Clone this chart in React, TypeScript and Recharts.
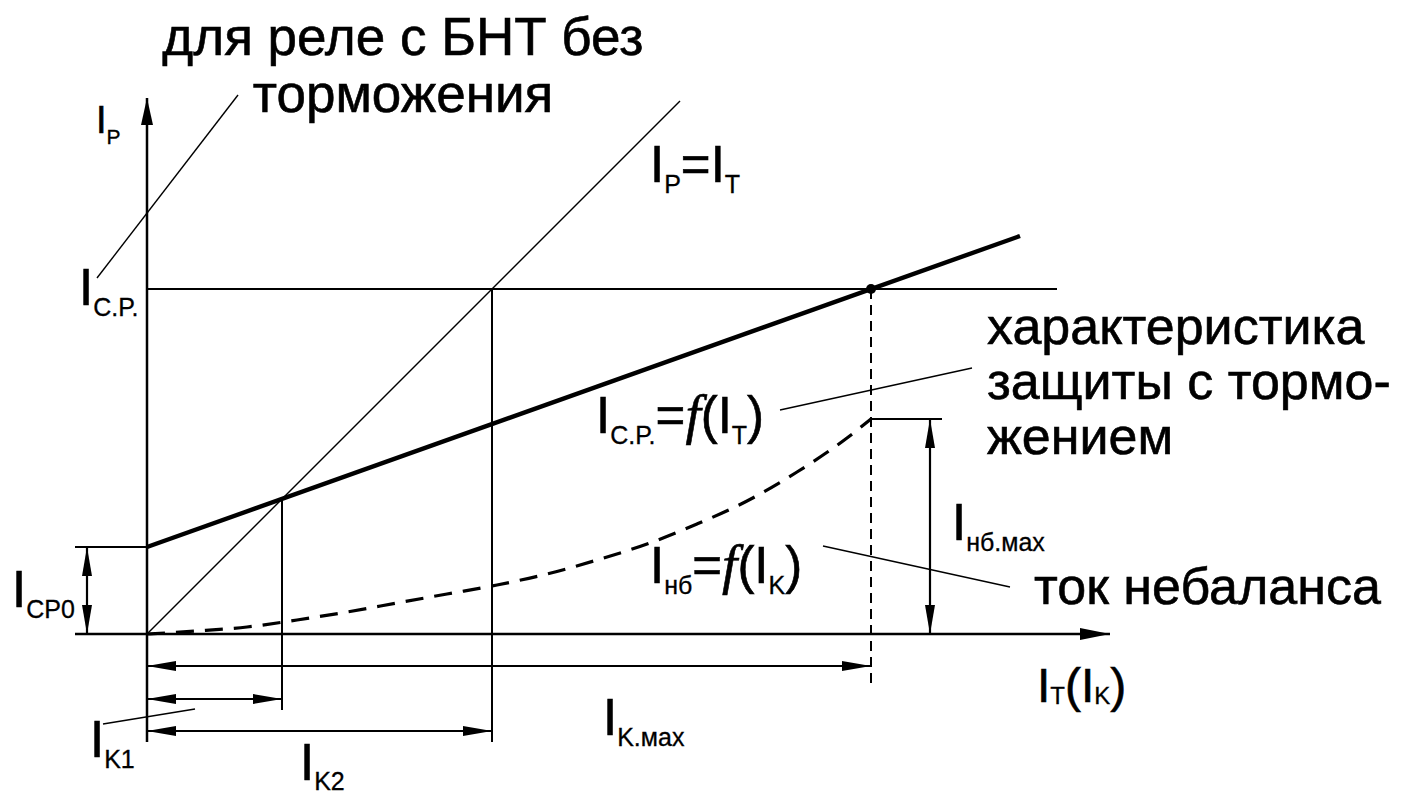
import { LineChart, Line, XAxis, YAxis, ReferenceLine, ReferenceDot } from 'recharts'

// Pickup levels and currents, in relative units of I
const I_CP0 = 0.87
const I_CP = 3.45
const I_K1 = 1.35
const I_K2 = 3.45
const I_K_MAX = 7.24
const I_NB_MAX = 2.15

// Braking characteristic I_C.P. = f(I_T)
const CHAR_X = [0, 8.73]
const CHAR_Y = [I_CP0, 3.98]
// I_P = I_T
const DIAG_X = [0, 5.33]
const DIAG_Y = [0, 5.33]
// Relay with БНТ, no braking
const BNT_X = [-0.5, 0.91]
const BNT_Y = [3.56, 5.39]
// Unbalance current I_нб = f(I_K)
const NB_X = [0, 0.5, 1, 1.5, 2, 2.5, 3, 3.5, 4, 4.5, 5, 5.5, 6, 6.5, 7, I_K_MAX]
const NB_Y = [0, 0.03, 0.07, 0.14, 0.22, 0.31, 0.4, 0.49, 0.6, 0.74, 0.9, 1.1, 1.33, 1.62, 1.96, I_NB_MAX]

const W = 1407
const H = 796
const X_DOMAIN = [-1.47, 12.6]
const Y_DOMAIN = [-1.62, 6.34]
const FONT = '"Liberation Sans", Arial, sans-serif'

const zip = (xs: number[], ys: number[]) => xs.map((x, i) => ({ x, y: ys[i] }))

type Pt = { x: number; y: number }

// line with optional filled arrowheads at either end
function arrowLine(opts: { start?: boolean; end?: boolean; width?: number; len?: number; half?: number; dash?: string }) {
  const { start = false, end = false, width = 2.2, len = 29, half = 5, dash } = opts
  return (p: any) => {
    const { x1, y1, x2, y2 } = p
    const dx = x2 - x1
    const dy = y2 - y1
    const d = Math.hypot(dx, dy) || 1
    const ux = dx / d
    const uy = dy / d
    const head = (tx: number, ty: number, sx: number, sy: number) => {
      const bx = tx - sx * len
      const by = ty - sy * len
      return `${tx},${ty} ${bx - sy * half},${by + sx * half} ${bx + sy * half},${by - sx * half}`
    }
    return (
      <g>
        <line x1={x1} y1={y1} x2={x2} y2={y2} stroke="#000" strokeWidth={width} strokeDasharray={dash} />
        {end && <polygon points={head(x2, y2, ux, uy)} fill="#000" />}
        {start && <polygon points={head(x1, y1, -ux, -uy)} fill="#000" />}
      </g>
    )
  }
}

type Part = { t: string; sub?: boolean; it?: boolean }

// symbol with subscripts, e.g. I_C.P.
function formula(parts: Part[], size = 51, subSize = 25, shift = 11) {
  return (p: any) => {
    let cur = 0
    return (
      <text x={p.cx} y={p.cy} fontFamily={FONT} fontSize={size} fill="#000" stroke="#000" strokeWidth={0.6}>
        {parts.map((part, i) => {
          const target = part.sub ? shift : 0
          const dy = target - cur
          cur = target
          return (
            <tspan
              key={i}
              dy={dy}
              fontSize={part.sub ? subSize : part.it ? size + 4 : size}
              fontStyle={part.it ? 'italic' : undefined}
              strokeWidth={part.sub ? 0.3 : 0.6}
              fontFamily={part.it ? '"Liberation Serif", "Times New Roman", serif' : undefined}
            >
              {part.t}
            </tspan>
          )
        })}
      </text>
    )
  }
}

function words(text: string, size = 52, anchor: 'start' | 'middle' = 'start') {
  return (p: any) => (
    <text x={p.cx} y={p.cy} fontFamily={FONT} fontSize={size} fill="#000" stroke="#000" strokeWidth={0.6} textAnchor={anchor}>
      {text}
    </text>
  )
}

const seg = (a: Pt, b: Pt): [Pt, Pt] => [a, b]

export default function App() {
  return (
    <div style={{ width: W, height: H, background: '#fff' }}>
      <style>{'body{margin:0}'}</style>
      <LineChart width={W} height={H} margin={{ top: 0, right: 0, bottom: 0, left: 0 }}>
        <XAxis type="number" dataKey="x" domain={X_DOMAIN} allowDataOverflow hide />
        <YAxis type="number" dataKey="y" domain={Y_DOMAIN} allowDataOverflow hide />

        {/* axes */}
        <ReferenceLine segment={seg({ x: -0.72, y: 0 }, { x: 9.63, y: 0 })} shape={arrowLine({ end: true, width: 2.5, len: 30, half: 6 })} />
        <ReferenceLine segment={seg({ x: 0, y: -1.08 }, { x: 0, y: 5.36 })} shape={arrowLine({ end: true, width: 2.5, len: 27, half: 6 })} />

        {/* pickup level and extension lines */}
        <ReferenceLine segment={seg({ x: 0, y: I_CP }, { x: 9.1, y: I_CP })} shape={arrowLine({ width: 2 })} />
        <ReferenceLine segment={seg({ x: -0.72, y: I_CP0 }, { x: 0, y: I_CP0 })} shape={arrowLine({ width: 2 })} />
        <ReferenceLine segment={seg({ x: I_K1, y: I_K1 }, { x: I_K1, y: -0.76 })} shape={arrowLine({ width: 2 })} />
        <ReferenceLine segment={seg({ x: I_K2, y: I_CP }, { x: I_K2, y: -1.08 })} shape={arrowLine({ width: 2 })} />
        <ReferenceLine segment={seg({ x: I_K_MAX, y: I_CP }, { x: I_K_MAX, y: -0.54 })} shape={arrowLine({ width: 2, dash: '10 6' })} />
        <ReferenceLine segment={seg({ x: I_K_MAX, y: I_NB_MAX }, { x: 7.95, y: I_NB_MAX })} shape={arrowLine({ width: 2 })} />

        {/* dimension arrows */}
        <ReferenceLine segment={seg({ x: -0.6, y: 0 }, { x: -0.6, y: I_CP0 })} shape={arrowLine({ start: true, end: true })} />
        <ReferenceLine segment={seg({ x: 0, y: -0.32 }, { x: I_K_MAX, y: -0.32 })} shape={arrowLine({ start: true, end: true })} />
        <ReferenceLine segment={seg({ x: 0, y: -0.65 }, { x: I_K1, y: -0.65 })} shape={arrowLine({ start: true, end: true })} />
        <ReferenceLine segment={seg({ x: 0, y: -0.97 }, { x: I_K2, y: -0.97 })} shape={arrowLine({ start: true, end: true })} />
        <ReferenceLine segment={seg({ x: 7.83, y: 0 }, { x: 7.83, y: I_NB_MAX })} shape={arrowLine({ start: true, end: true })} />

        {/* leader lines */}
        <ReferenceLine segment={seg({ x: -0.44, y: -0.9 }, { x: 0.48, y: -0.75 })} shape={arrowLine({ width: 1.4 })} />
        <ReferenceLine segment={seg({ x: 6.33, y: 2.24 }, { x: 8.25, y: 2.66 })} shape={arrowLine({ width: 1.4 })} />
        <ReferenceLine segment={seg({ x: 6.76, y: 0.88 }, { x: 8.63, y: 0.47 })} shape={arrowLine({ width: 1.4 })} />

        {/* characteristics */}
        <Line data={zip(BNT_X, BNT_Y)} dataKey="y" type="linear" stroke="#000" strokeWidth={1.4} dot={false} activeDot={false} isAnimationActive={false} />
        <Line data={zip(DIAG_X, DIAG_Y)} dataKey="y" type="linear" stroke="#000" strokeWidth={1.4} dot={false} activeDot={false} isAnimationActive={false} />
        <Line data={zip(NB_X, NB_Y)} dataKey="y" type="monotone" stroke="#000" strokeWidth={3.2} strokeDasharray="18 11" dot={false} activeDot={false} isAnimationActive={false} />
        <Line data={zip(CHAR_X, CHAR_Y)} dataKey="y" type="linear" stroke="#000" strokeWidth={4.4} dot={false} activeDot={false} isAnimationActive={false} />

        <ReferenceDot x={I_K_MAX} y={I_CP} r={5} fill="#000" stroke="none" />

        {/* labels */}
        <ReferenceDot x={2.56} y={5.79} r={0} shape={words('для реле с БНТ без', 53, 'middle')} />
        <ReferenceDot x={2.56} y={5.22} r={0} shape={words('торможения', 53, 'middle')} />
        <ReferenceDot x={8.4} y={2.9} r={0} shape={words('характеристика')} />
        <ReferenceDot x={8.4} y={2.35} r={0} shape={words('защиты с тормо-')} />
        <ReferenceDot x={8.4} y={1.8} r={0} shape={words('жением')} />
        <ReferenceDot x={8.87} y={0.3} r={0} shape={words('ток небаланса')} />

        <ReferenceDot x={-0.51} y={5.01} r={0} shape={formula([{ t: 'I' }, { t: 'P', sub: true }], 38, 21, 11)} />
        <ReferenceDot x={5.03} y={4.52} r={0} shape={formula([{ t: 'I' }, { t: 'P', sub: true }, { t: '=I' }, { t: 'T', sub: true }])} />
        <ReferenceDot x={-0.68} y={3.29} r={0} shape={formula([{ t: 'I' }, { t: 'C.P.', sub: true }])} />
        <ReferenceDot x={-1.35} y={0.27} r={0} shape={formula([{ t: 'I' }, { t: 'CP0', sub: true }])} />
        <ReferenceDot
          x={4.49}
          y={2.01}
          r={0}
          shape={formula([{ t: 'I' }, { t: 'C.P.', sub: true }, { t: '=' }, { t: 'f', it: true }, { t: '(I' }, { t: 'T', sub: true }, { t: ')' }])}
        />
        <ReferenceDot
          x={5.03}
          y={0.51}
          r={0}
          shape={formula([{ t: 'I' }, { t: 'нб', sub: true }, { t: '=' }, { t: 'f', it: true }, { t: '(I' }, { t: 'K', sub: true }, { t: ')' }])}
        />
        <ReferenceDot x={8.05} y={0.94} r={0} shape={formula([{ t: 'I' }, { t: 'нб.мах', sub: true }])} />
        <ReferenceDot
          x={8.9}
          y={-0.68}
          r={0}
          shape={formula([{ t: 'I' }, { t: 'T', sub: true }, { t: '(I' }, { t: 'K', sub: true }, { t: ')' }], 48, 24, 2)}
        />
        <ReferenceDot x={4.56} y={-1.01} r={0} shape={formula([{ t: 'I' }, { t: 'K.мах', sub: true }])} />
        <ReferenceDot x={-0.57} y={-1.23} r={0} shape={formula([{ t: 'I' }, { t: 'K1', sub: true }])} />
        <ReferenceDot x={1.53} y={-1.46} r={0} shape={formula([{ t: 'I' }, { t: 'K2', sub: true }], 51, 25, 10)} />
      </LineChart>
    </div>
  )
}
